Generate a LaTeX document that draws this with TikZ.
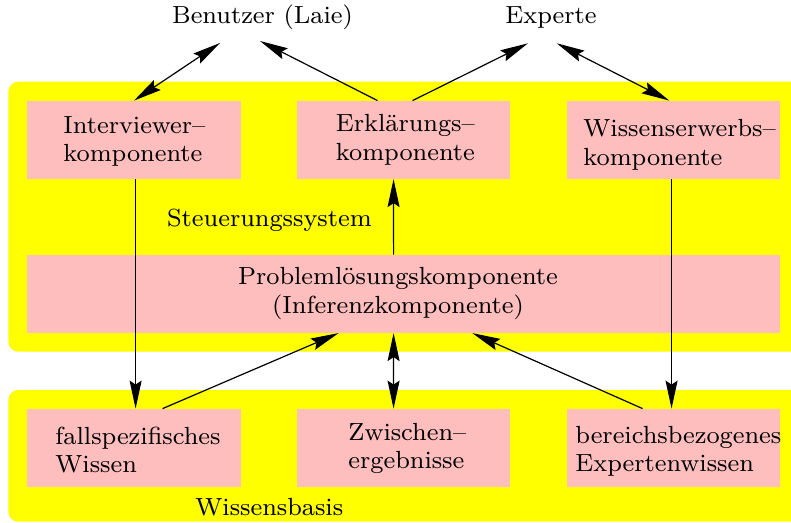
\documentclass[tikz,border=0pt]{standalone}
\usepackage{fontspec}
\setmainfont{lmroman8-regular.otf}
\usetikzlibrary{arrows.meta,calc}
\definecolor{boxpink}{RGB}{255,190,190}
\definecolor{areayellow}{RGB}{255,255,0}
\begin{document}
\begin{tikzpicture}[x=0.5pt,y=-0.5pt,
  font=\fontsize{12.4}{14.25}\selectfont,
  area/.style={fill=areayellow, draw=none, rounded corners=5pt},
  box/.style={fill=boxpink, draw=none, minimum width=106.7pt, minimum height=38.85pt, inner sep=0pt, anchor=center},
  widebox/.style={box, minimum width=376.35pt},
  lbl/.style={anchor=base west, inner sep=0pt},
  clbl/.style={anchor=base, inner sep=0pt},
  tip/.tip={Stealth[length=14pt,width=6pt,inset=2pt]},
  arr/.style={-tip, line width=0.6pt},
  darr/.style={tip-tip, line width=0.6pt}]
\useasboundingbox (0,0) rectangle (791,523);
\begin{scope}
  \clip (0,0) rectangle (791,523);
  \fill[area] (8.3,81.7) rectangle (830,351.7);
  \fill[area] (8.3,390) rectangle (830,521.7);
\end{scope}
% boxes
\node[box] (inter) at (134,139.85) {};
\node[box] (erkl) at (403.35,139.85) {};
\node[box] (wiss) at (673.65,139.85) {};
\node[widebox] (prob) at (403.65,293.85) {};
\node[box] (fall) at (134,447.85) {};
\node[box] (zw) at (403.35,447.85) {};
\node[box] (ber) at (673.65,447.85) {};
% labels
\node[clbl] (benutzer) at (262.5,24) {Benutzer (Laie)};
\node[clbl] (experte) at (551,23.5) {Experte};
\node[lbl] (tinter) at (63,133.3) {\begin{tabular}[t]{@{}l@{}}Interviewer--\\komponente\end{tabular}};
\node[lbl] (terkl) at (335.5,131.7) {\begin{tabular}[t]{@{}l@{}}Erklärungs--\\komponente\end{tabular}};
\node[lbl] (twiss) at (583,136.7) {\begin{tabular}[t]{@{}l@{}}Wissenserwerbs--\\komponente\end{tabular}};
\node[lbl] (steuer) at (166.7,227) {Steuerungssystem};
\node[clbl] (tprob) at (398,285) {\begin{tabular}[t]{@{}c@{}}Problemlösungskomponente\\(Inferenzkomponente)\end{tabular}};
\node[lbl] (tfall) at (55,444) {\begin{tabular}[t]{@{}l@{}}fallspezifisches\\Wissen\end{tabular}};
\node[lbl] (tzw) at (348,440) {\begin{tabular}[t]{@{}l@{}}Zwischen--\\ergebnisse\end{tabular}};
\node[lbl] (tber) at (575,443.3) {\begin{tabular}[t]{@{}l@{}}bereichsbezogenes\\Expertenwissen\end{tabular}};
\node[lbl] (basis) at (195,515) {Wissensbasis};
% free ends near the top labels
\coordinate (bl) at (220,43);
\coordinate (br) at (260,41);
\coordinate (el) at (528,43.3);
\coordinate (er) at (556.7,43.3);
% connectors
\draw[darr] (inter.north) -- (bl);
\draw[arr] ($(erkl.north west)+(81.3,0)$) -- (br);
\draw[arr] ($(erkl.north west)+(116.3,0)$) -- (el);
\draw[darr] (er) -- ($(wiss.north west)+(102.7,0)$);
\draw[arr] ($(prob.north west)+(366.7,0)$) -- ($(erkl.south west)+(97.3,0)$);
\draw[arr] ($(inter.south west)+(108.7,0)$) -- ($(fall.north west)+(108.7,0)$);
\draw[arr] ($(wiss.south west)+(105,0)$) -- ($(ber.north west)+(105,0)$);
\draw[arr] ($(fall.north west)+(135.7,0)$) -- ($(prob.south west)+(311.7,0)$);
\draw[arr] ($(ber.north west)+(76,0)$) -- ($(prob.south west)+(445.4,0)$);
\draw[darr] ($(prob.south west)+(366.7,0)$) -- ($(zw.north west)+(97.3,0)$);
\end{tikzpicture}
\end{document}
